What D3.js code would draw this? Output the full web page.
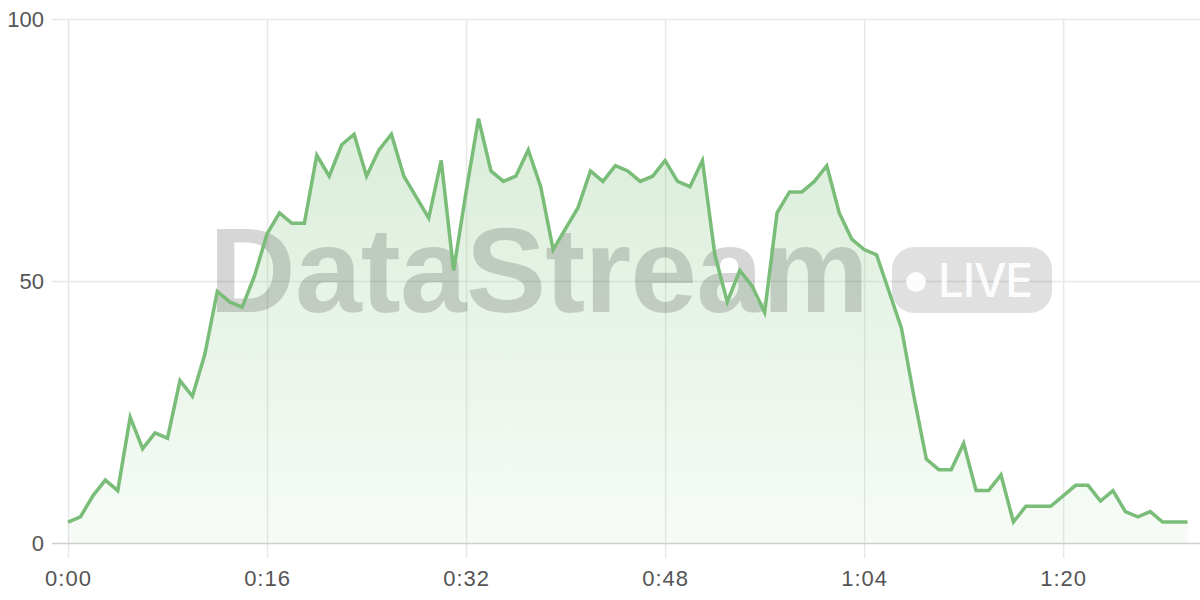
<!DOCTYPE html>
<html>
<head>
<meta charset="utf-8">
<script src="https://cdn.jsdelivr.net/npm/d3@7"></script>
<style>
  html, body { margin: 0; padding: 0; background: #fff; }
  svg { display: block; font-family: Inter, "Liberation Sans", sans-serif; }
</style>
</head>
<body>
<div id="chart"></div>
<script>
// seconds since start, one sample per second
const seconds = d3.range(0, 91);
const values = [
  4, 5, 9, 12, 10, 24, 18, 21, 20, 31,
  28, 36, 48, 46, 45, 51, 59, 63, 61, 61,
  74, 70, 76, 78, 70, 75, 78, 70, 66, 62,
  73, 52, 67, 81, 71, 69, 70, 75, 68, 56,
  60, 64, 71, 69, 72, 71, 69, 70, 73, 69,
  68, 73, 55, 46, 52, 49, 44, 63, 67, 67,
  69, 72, 63, 58, 56, 55, 48, 41, 28, 16,
  14, 14, 19, 10, 10, 13, 4, 7, 7, 7,
  9, 11, 11, 8, 10, 6, 5, 6, 4, 4,
  4
];
const xTicks = [0, 16, 32, 48, 64, 80];
const yTicks = [0, 50, 100];
const watermark = 'DataStream';
const badge = 'LIVE';

const data = seconds.map((s, i) => ({s, v: values[i]}));

const W = 1200, H = 600;
const margin = {top: 19, right: 0, bottom: 57, left: 68};

const svg = d3.select('#chart').append('svg')
  .attr('width', W).attr('height', H);

const x = d3.scaleLinear().domain([0, 91]).range([margin.left, W - margin.right]);
const y = d3.scaleLinear().domain([0, 100]).range([H - margin.bottom, margin.top]);

const fmt = s => Math.floor(s / 60) + ':' + String(s % 60).padStart(2, '0');

// gradient for area
const defs = svg.append('defs');
const grad = defs.append('linearGradient')
  .attr('id', 'fillGrad').attr('x1', 0).attr('y1', 0).attr('x2', 0).attr('y2', 1);
grad.append('stop').attr('offset', '0%').attr('stop-color', '#7bbf7b').attr('stop-opacity', 0.28);
grad.append('stop').attr('offset', '100%').attr('stop-color', '#7bbf7b').attr('stop-opacity', 0.06);

// grid + axes
const yAxis = svg.append('g')
  .attr('transform', `translate(${margin.left},0)`)
  .call(d3.axisLeft(y).tickValues(yTicks)
    .tickSize(-(W - margin.left - margin.right)).tickSizeOuter(0).tickPadding(8)
    .tickFormat(d3.format('d')));
yAxis.select('.domain').remove();
yAxis.selectAll('.tick line')
  .attr('x1', -16)
  .attr('stroke', d => d === 0 ? '#cfcfcf' : '#e8e8e8')
  .attr('stroke-width', 1.5);
yAxis.selectAll('.tick text')
  .attr('x', -24)
  .attr('fill', '#555').attr('font-size', 22);

const xAxis = svg.append('g')
  .attr('transform', `translate(0,${H - margin.bottom})`)
  .call(d3.axisBottom(x).tickValues(xTicks)
    .tickSize(-(H - margin.bottom - margin.top)).tickSizeOuter(0).tickPadding(27)
    .tickFormat(fmt));
xAxis.select('.domain').remove();
xAxis.selectAll('.tick line')
  .attr('y1', 15)
  .attr('stroke', '#e8e8e8').attr('stroke-width', 1.5);
xAxis.selectAll('.tick text')
  .attr('fill', '#555').attr('font-size', 22)
  .attr('letter-spacing', 1);

// bring baseline on top of vertical grid
yAxis.raise();

// area
svg.append('path')
  .datum(data)
  .attr('fill', 'url(#fillGrad)')
  .attr('d', d3.area().x(d => x(d.s)).y0(y(0)).y1(d => y(d.v)));

// watermark
const wm = svg.append('g');
wm.append('text')
  .attr('x', 209).attr('y', 312)
  .attr('font-family', '"Liberation Sans", Arial, sans-serif')
  .attr('font-weight', 700).attr('font-size', 120)
  .attr('textLength', 660)
  .attr('fill', 'rgba(0,0,0,0.16)')
  .text(watermark);
wm.append('rect')
  .attr('x', 892).attr('y', 247).attr('width', 160).attr('height', 66).attr('rx', 22)
  .attr('fill', 'rgba(0,0,0,0.12)');
wm.append('circle')
  .attr('cx', 916).attr('cy', 282).attr('r', 10)
  .attr('fill', 'rgba(255,255,255,0.92)');
wm.append('text')
  .attr('x', 938).attr('y', 297)
  .attr('font-family', 'Inter, "Liberation Sans", sans-serif')
  .attr('font-weight', 500).attr('font-size', 46)
  .attr('textLength', 95)
  .attr('fill', 'rgba(255,255,255,0.92)')
  .text(badge);

// line
svg.append('path')
  .datum(data)
  .attr('fill', 'none')
  .attr('stroke', '#79bd79')
  .attr('stroke-width', 3.5)
  .attr('stroke-linejoin', 'miter')
  .attr('d', d3.line().x(d => x(d.s)).y(d => y(d.v)));
</script>
</body>
</html>
